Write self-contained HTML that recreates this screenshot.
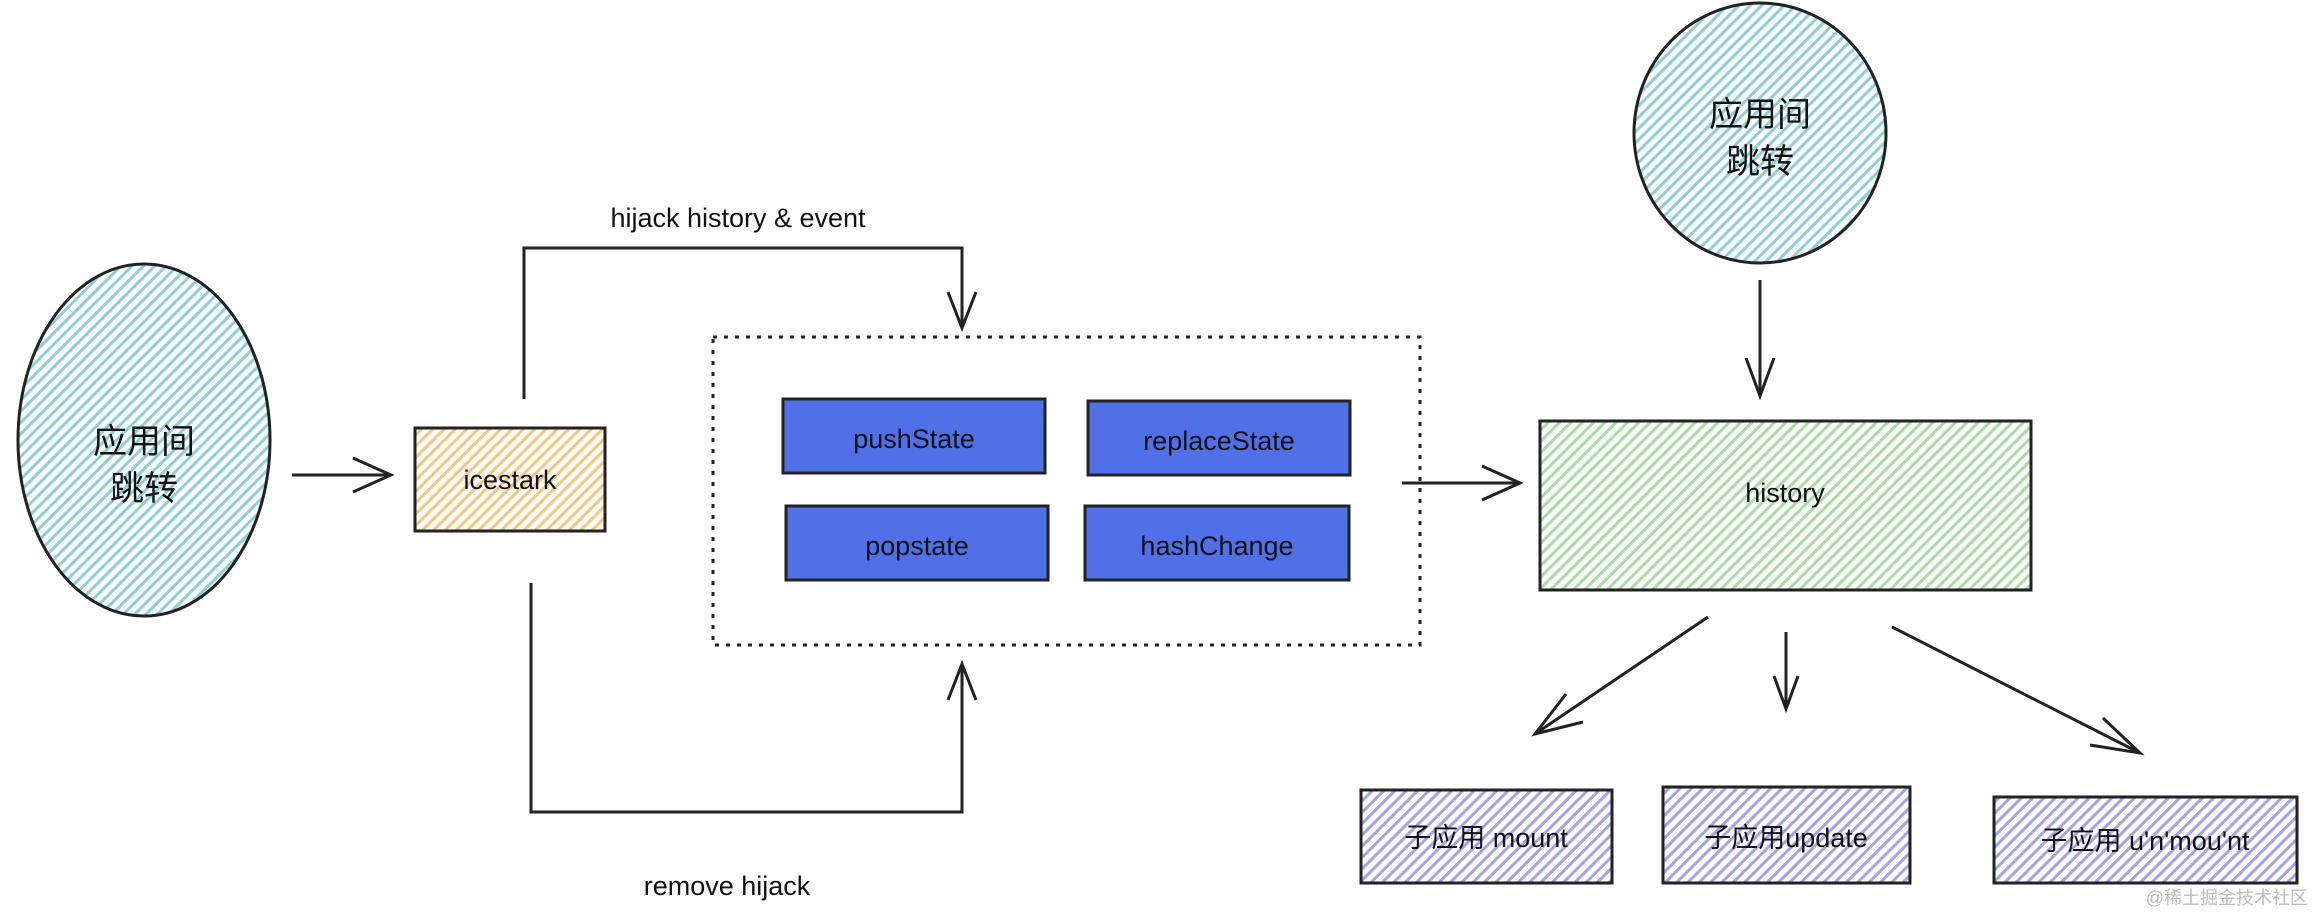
<!DOCTYPE html>
<html><head><meta charset="utf-8"><style>
html,body{margin:0;padding:0;background:#fff;}
svg{display:block}
text{font-family:"Liberation Sans","Noto Sans CJK SC",sans-serif;fill:#111;}
</style></head><body>
<svg width="2314" height="914" viewBox="0 0 2314 914" xmlns="http://www.w3.org/2000/svg">
<defs>
<pattern id="hb" width="8" height="8" patternUnits="userSpaceOnUse" patternTransform="rotate(45)"><rect width="8" height="8" fill="#fff"/><rect width="3" height="8" fill="#8ccfd8"/></pattern>
<pattern id="hy" width="8" height="8" patternUnits="userSpaceOnUse" patternTransform="rotate(45)"><rect width="8" height="8" fill="#fff"/><rect width="3" height="8" fill="#f3c77c"/></pattern>
<pattern id="hg" width="8" height="8" patternUnits="userSpaceOnUse" patternTransform="rotate(45)"><rect width="8" height="8" fill="#fff"/><rect width="3" height="8" fill="#a8dca4"/></pattern>
<pattern id="hp" width="8" height="8" patternUnits="userSpaceOnUse" patternTransform="rotate(45)"><rect width="8" height="8" fill="#fff"/><rect width="3" height="8" fill="#a3a3ec"/></pattern>
</defs>
<g stroke="#222" stroke-width="3" fill="none">
<ellipse cx="144" cy="440" rx="126" ry="176" fill="url(#hb)"/>
<ellipse cx="1760" cy="133" rx="126" ry="130" fill="url(#hb)"/>
<rect x="415" y="428" width="190" height="103" fill="url(#hy)"/>
<rect x="713" y="337" width="707" height="308" stroke-dasharray="4,7"/>
<rect x="783" y="399" width="262" height="74" fill="#5070e8"/>
<rect x="1088" y="401" width="262" height="74" fill="#5070e8"/>
<rect x="786" y="506" width="262" height="74" fill="#5070e8"/>
<rect x="1085" y="506" width="264" height="74" fill="#5070e8"/>
<rect x="1540" y="421" width="491" height="169" fill="url(#hg)"/>
<rect x="1361" y="790" width="251" height="93" fill="url(#hp)"/>
<rect x="1663" y="787" width="247" height="96" fill="url(#hp)"/>
<rect x="1994" y="797" width="303" height="86" fill="url(#hp)"/>
<path d="M292 475 L391 475 M353 458 L391 475 L353 492"/>
<path d="M524 399 L524 248 L962 248 L962 328 M948 292 L962 328 L976 292"/>
<path d="M531 583 L531 812 L962 812 L962 664 M948 700 L962 664 L976 700"/>
<path d="M1402 483 L1520 483 M1482 466 L1520 483 L1482 500"/>
<path d="M1760 280 L1760 396 M1746 358 L1760 396 L1774 358"/>
<path d="M1708 617 L1535 734 M1566 694 L1535 734 L1583 722"/>
<path d="M1786 632 L1786 709 M1774 676 L1786 709 L1798 676"/>
<path d="M1892 627 L2140 753 M2103 718 L2140 753 L2090 745"/>
</g>
<g font-size="34" text-anchor="middle">
<text x="144" y="453">应用间</text><text x="144" y="500">跳转</text>
<text x="1760" y="126">应用间</text><text x="1760" y="173">跳转</text>
</g>
<g font-size="27" text-anchor="middle">
<text x="510" y="489">icestark</text>
<text x="914" y="448">pushState</text>
<text x="1219" y="450">replaceState</text>
<text x="917" y="555">popstate</text>
<text x="1217" y="555">hashChange</text>
<text x="1785" y="502">history</text>
<text x="738" y="227">hijack history &amp; event</text>
<text x="727" y="895">remove hijack</text>
<text x="1486" y="847">子应用 mount</text>
<text x="1786" y="847">子应用update</text>
<text x="2145" y="850">子应用 u'n'mou'nt</text>
</g>
<text x="2308" y="904" font-size="18" text-anchor="end" style="fill:#bbb">@稀土掘金技术社区</text>
</svg>
</body></html>
